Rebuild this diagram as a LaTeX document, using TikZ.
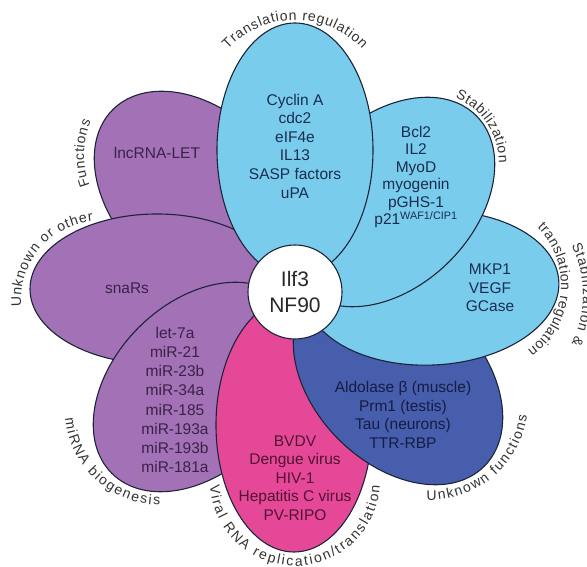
\documentclass[tikz,border=0pt]{standalone}
\usepackage{fontspec}
\setmainfont{Liberation Sans}
\usetikzlibrary{shapes,decorations.text}

\definecolor{skyblue}{RGB}{122,204,236}
\definecolor{purp}{RGB}{163,113,182}
\definecolor{rose}{RGB}{230,72,152}
\definecolor{navy}{RGB}{70,94,172}
\definecolor{edge}{RGB}{28,36,58}
\definecolor{skytext}{RGB}{25,45,80}
\definecolor{purptext}{RGB}{58,34,72}
\definecolor{rosetext}{RGB}{80,18,50}
\definecolor{navytext}{RGB}{22,28,68}
\definecolor{lbltext}{RGB}{50,50,50}
\newcommand{\lblfont}{\fontsize{14}{16}\selectfont}

\begin{document}
\begin{tikzpicture}[x=1pt, y=1pt,
  petal/.style={draw=edge, line width=1.1pt},
  genes/.style={align=center, inner sep=0pt, font=\fontsize{15.5}{18.6}\selectfont},
  arclabel/.style={decorate, decoration={text along path, text align=fit to path,
    text color=lbltext, text={|\lblfont|#1}}}]
  \useasboundingbox (0,0) rectangle (587,567);
  % petals, back to front
  \draw[petal, fill=purp, rotate around={135:(199,371)}] (199,371) ellipse[x radius=122, y radius=84]; % functions
  \draw[petal, fill=purp] (157,278) ellipse[x radius=127, y radius=75]; % unknown or other
  \draw[petal, fill=purp, rotate around={45:(198,180)}] (198,180) ellipse[x radius=122, y radius=84]; % miRNA
  \draw[petal, fill=rose] (294,142) ellipse[x radius=78, y radius=127]; % viral RNA
  \draw[petal, fill=navy, rotate around={-45:(398,187)}] (398,187) ellipse[x radius=122, y radius=84]; % unknown functions
  \draw[petal, fill=skyblue, rotate around={3:(432,279)}] (432,279) ellipse[x radius=127, y radius=77]; % stab. + transl.
  \draw[petal, fill=skyblue, rotate around={45:(390,365)}] (390,365) ellipse[x radius=122, y radius=84]; % stabilization
  \draw[petal, fill=skyblue] (295,417) ellipse[x radius=78, y radius=127]; % translation
  % hub
  \node[circle, draw=edge, fill=white, line width=1.1pt, minimum size=94pt, align=center,
    font=\fontsize{21}{26}\selectfont, text={rgb,255:red,40;green,40;blue,40}] (hub) at (295,275) {Ilf3\\NF90};
  % targets
  \node[genes, text=skytext] (transl) at (295,421) {Cyclin A\\cdc2\\eIF4e\\IL13\\SASP factors\\uPA};
  \node[genes, text=skytext, font=\fontsize{15.5}{17.4}\selectfont] (stab) at (416,390) {Bcl2\\IL2\\MyoD\\myogenin\\pGHS-1\\p21\textsuperscript{WAF1/CIP1}};
  \node[genes, text=skytext] (stabtr) at (490,279) {MKP1\\VEGF\\GCase};
  \node[genes, text=navytext] (unkn) at (403,152) {Aldolase β (muscle)\\Prm1 (testis)\\Tau (neurons)\\TTR-RBP};
  \node[genes, text=rosetext] (viral) at (295,89) {BVDV\\Dengue virus\\HIV-1\\Hepatitis C virus\\PV-RIPO};
  \node[genes, text=purptext, font=\fontsize{15.5}{19.1}\selectfont] (mirna) at (175,167) {let-7a\\miR-21\\miR-23b\\miR-34a\\miR-185\\miR-193a\\miR-193b\\miR-181a};
  \node[genes, text=purptext] (snars) at (127,279) {snaRs};
  \node[genes, text=purptext] (lnc) at (157,414) {lncRNA-LET};
  % outer labels
  \path[arclabel={Translation regulation}] (295,455) ++(137:92) arc[start angle=137, end angle=43, radius=92];
  \path[arclabel={Stabilization}] (429,404) ++(68:70) arc[start angle=68, end angle=0, radius=70];
  \path[arclabel={translation regulation}] (480,282) ++(45:81) arc[start angle=45, end angle=-54, radius=81];
  \path[arclabel={Stabilization {\&}}] (470,272) ++(26:113) arc[start angle=26, end angle=-26, radius=113];
  \path[arclabel={Unknown functions}] (430,165) ++(-92:98) arc[start angle=-92, end angle=-8, radius=98];
  \path[arclabel={Viral RNA replication/translation}] (295,86) ++(183:85) arc[start angle=183, end angle=357, radius=85];
  \path[arclabel={miRNA biogenesis}] (160,157) ++(185:95) arc[start angle=185, end angle=270, radius=95];
  \path[arclabel={Unknown or other}] (100,267) ++(185:79) arc[start angle=185, end angle=95, radius=79];
  \path[arclabel={Functions}] (170,412) ++(201:86) arc[start angle=201, end angle=157, radius=86];
\end{tikzpicture}
\end{document}
